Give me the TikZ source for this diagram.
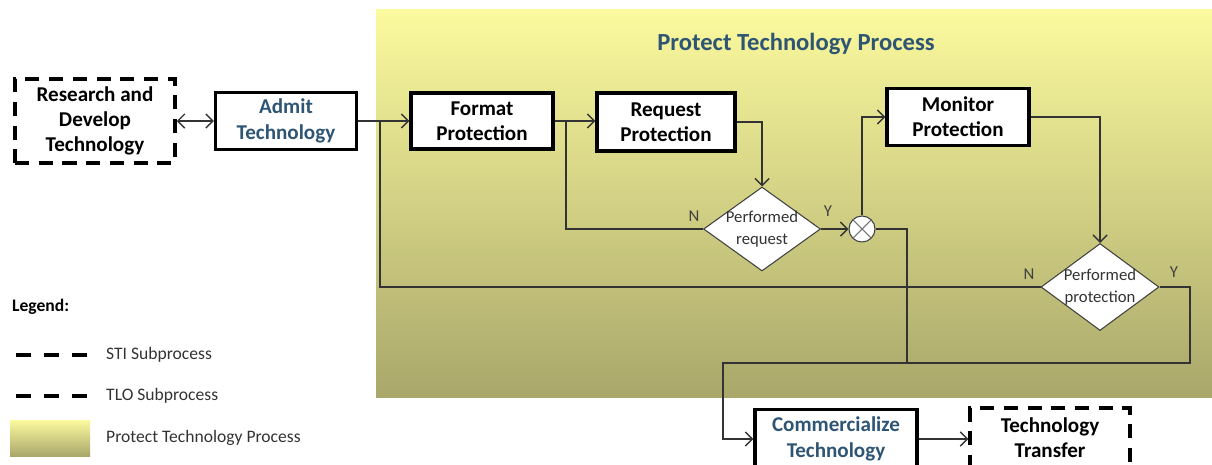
\documentclass[tikz,border=0pt]{standalone}
\usepackage{fontspec}
\setmainfont{Carlito}
\usetikzlibrary{positioning,arrows.meta,shapes.geometric}
\definecolor{procblue}{HTML}{2F5574}
\definecolor{bgtop}{HTML}{FBFA9E}
\definecolor{bgmid}{HTML}{E0DE8A}
\definecolor{bgbot}{HTML}{A9A76A}

\begin{document}
\begin{tikzpicture}[
    x=0.02cm, y=-0.02cm,
    font=\fontsize{12}{14.4}\selectfont\bfseries,
    box/.style={draw=black, line width=1.8pt, fill=white, align=center, inner sep=2pt},
    dbox/.style={box, dash pattern=on 8pt off 5.5pt, line width=2pt},
    decision/.style={diamond, draw=black!75, line width=0.6pt, fill=white, align=center,
                     inner xsep=-5pt, inner ysep=-4pt, shape aspect=1.4,
                     font=\fontsize{9.5}{12}\selectfont, text=black!80},
    joint/.style={circle, draw=black!75, line width=0.6pt, fill=white, minimum size=0.52cm, inner sep=0pt},
    lbl/.style={font=\fontsize{9.5}{11}\selectfont, text=black!75},
    line/.style={black!80, line width=0.8pt},
    flow/.style={line, -{Straight Barb[length=4pt,width=8pt]}},
    legdash/.style={line width=2.2pt, dash pattern=on 8.5pt off 7.4pt},
    legtxt/.style={font=\fontsize{10}{12}\selectfont, text=black!80, anchor=west},
]
  \useasboundingbox (0,0) rectangle (1212,464);
  %% process area
  \fill[top color=bgtop, middle color=bgmid, bottom color=bgbot] (376,9) rectangle (1212,397);
  \node[font=\fontsize{14}{16}\selectfont\bfseries, text=procblue] (title) at (796,44) {Protect Technology Process};

  %% activities
  \node[dbox, minimum width=3.2cm, minimum height=1.68cm] (rd) at (95,121) {Research and\\Develop\\Technology};
  \node[box, minimum width=2.82cm, minimum height=1.14cm, text=procblue] (admit) at (286,121) {Admit\\Technology};
  \node[box, minimum width=2.84cm, minimum height=1.12cm] (fmt) at (482,121) {Format\\Protection};
  \node[box, minimum width=2.76cm, minimum height=1.16cm] (req) at (666,122) {Request\\Protection};
  \node[box, minimum width=2.84cm, minimum height=1.14cm] (mon) at (958,117) {Monitor\\Protection};
  \node[box, minimum width=3.24cm, minimum height=1.18cm, text=procblue] (comm) at (836,439) {Commercialize\\Technology};
  \node[dbox, minimum width=3.2cm, minimum height=1.2cm] (tt) at (1050,438) {Technology\\Transfer};

  %% decisions
  \node[decision, minimum width=2.34cm, minimum height=1.68cm] (dq1) at (762,229) {Performed\\request};
  \node[decision, minimum width=2.36cm, minimum height=1.74cm] (dq2) at (1100,287) {Performed\\protection};
  \node[joint] (junc) at (862,229) {};
  \draw[black!55, line width=0.6pt] (junc.north west) -- (junc.south east) (junc.north east) -- (junc.south west);

  \node[lbl] (n1) at (694,216) {N};
  \node[lbl] (y1) at (828,211) {Y};
  \node[lbl] (n2) at (1029,274) {N};
  \node[lbl] (y2) at (1174,272) {Y};

  %% bends
  \coordinate (tapA) at (380,121);
  \coordinate (tapB) at (566,121);
  \coordinate (merge) at (907,363);
  \coordinate (bendC) at (723,363);
  \coordinate (yret) at (1190,363);

  %% connectors
  \draw[line, {Straight Barb[length=4pt,width=8pt]}-{Straight Barb[length=4pt,width=8pt]}] (rd.east) -- (admit.west);
  \draw[flow] (admit.east) -- (fmt.west);
  \draw[flow] (fmt.east) -- (req.west |- fmt.east);
  \draw[flow] (req.east) -| (dq1.north);
  \draw[line] (dq1.west) -| (tapB);
  \draw[flow] (dq1.east) -- (junc.west);
  \draw[flow] (junc.north) |- (mon.west);
  \draw[flow] (mon.east) -| (dq2.north);
  \draw[line] (dq2.west) -| (tapA);
  \draw[line] (dq2.east) -| (yret) -- (merge);
  \draw[flow] (junc.east) -| (merge) -- (bendC) |- (comm.west);
  \draw[flow] (comm.east) -- (tt.west |- comm.east);

  %% legend
  \node[font=\fontsize{10}{12}\selectfont\bfseries, anchor=west] (leg) at (6,307) {Legend:};
  \coordinate (sti) at (16,355);
  \coordinate (tlo) at (16,396);
  \draw[legdash] (sti) -- ++(72,0);
  \draw[legdash] (tlo) -- ++(72,0);
  \node[legtxt] (stitxt) at (100,355) {STI Subprocess};
  \node[legtxt] (tlotxt) at (100,396) {TLO Subprocess};
  \fill[top color=bgtop, middle color=bgmid, bottom color=bgbot] (10,420) rectangle (90,456);
  \node[legtxt] (ptptxt) at (100,438) {Protect Technology Process};
\end{tikzpicture}
\end{document}
